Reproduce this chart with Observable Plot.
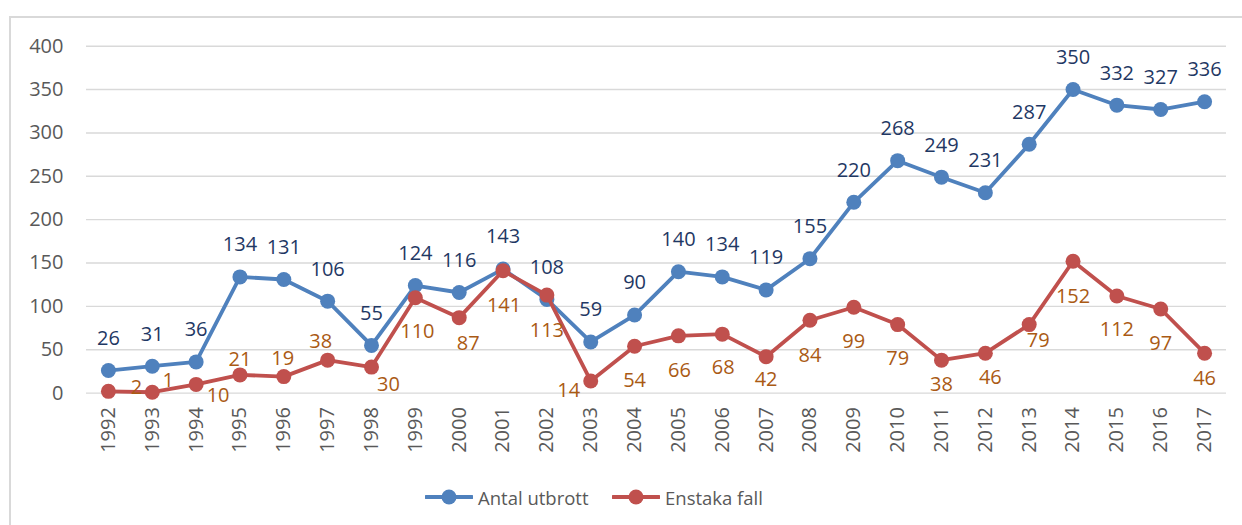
<!DOCTYPE html>
<html>
<head>
<meta charset="utf-8">
<script src="https://cdn.jsdelivr.net/npm/d3@7"></script>
<script src="https://cdn.jsdelivr.net/npm/@observablehq/plot@0.6"></script>
<style>
  html, body { margin: 0; padding: 0; background: #fff; }
  #wrap { position: relative; width: 1242px; height: 525px; overflow: hidden; font-family: "Open Sans", "Noto Sans", sans-serif; }
  #frame { position: absolute; left: 9px; top: 16px; width: 1300px; height: 600px; border-left: 2px solid #d9d9d9; border-top: 2px solid #d9d9d9; }
  #chart { position: absolute; left: 0; top: 0; }
  #legend { position: absolute; left: 0; top: 484px; width: 1242px; height: 26px; font-size: 18.5px; color: #595959; }
  .item { position: absolute; top: 0; display: flex; align-items: center; white-space: nowrap; }
  .item svg { margin-right: 5px; }
</style>
</head>
<body>
<div id="wrap">
  <div id="frame"></div>
  <div id="chart"></div>
  <div id="legend"></div>
</div>
<script>
const years = [1992, 1993, 1994, 1995, 1996, 1997, 1998, 1999, 2000, 2001, 2002, 2003, 2004, 2005, 2006, 2007, 2008, 2009, 2010, 2011, 2012, 2013, 2014, 2015, 2016, 2017];
const antalUtbrott = [26, 31, 36, 134, 131, 106, 55, 124, 116, 143, 108, 59, 90, 140, 134, 119, 155, 220, 268, 249, 231, 287, 350, 332, 327, 336];
const enstakaFall = [2, 1, 10, 21, 19, 38, 30, 110, 87, 141, 113, 14, 54, 66, 68, 42, 84, 99, 79, 38, 46, 79, 152, 112, 97, 46];
const yTicks = [0, 50, 100, 150, 200, 250, 300, 350, 400];
const seriesNames = ["Antal utbrott", "Enstaka fall"];

// label placement offsets [dx, dy] for the "Enstaka fall" data labels
const fallLabelOffsets = [[28,-4],[16,-12],[22,11],[0,-15],[-1,-18],[-7,-19],[17,18],[2,34],[9,26],[1,35],[0,35],[-22,10],[0,34],[1,35],[1,33],[0,23],[0,35],[0,34],[0,34],[0,24],[5,24],[9,16],[0,35],[0,34],[0,35],[0,25]];

const colors = { blue: "#4F81BD", red: "#C0504D", blueText: "#1F3864", redText: "#AA5A14", axis: "#595959", grid: "#d9d9d9" };

const utbrott = years.map((y, i) => ({ year: String(y), value: antalUtbrott[i] }));
const fall = years.map((y, i) => ({ year: String(y), value: enstakaFall[i] }));

const W = 1242, H = 470;
const left = 86, right = 1226;

const fallLabels = fall.map((d, i) => Plot.text([d], {
  x: "year", y: "value", text: d => String(d.value),
  dx: fallLabelOffsets[i][0], dy: fallLabelOffsets[i][1],
  fill: colors.redText, fontSize: 20
}));

const chart = Plot.plot({
  width: W,
  height: H,
  marginLeft: left,
  marginRight: W - right,
  marginTop: 45.7,
  marginBottom: H - 392.6,
  style: { fontFamily: "'Open Sans', 'Noto Sans', sans-serif", background: "transparent", overflow: "visible" },
  x: { type: "point", domain: years.map(String), padding: 0.5, round: false },
  y: { domain: [0, 400] },
  marks: [
    Plot.gridY(yTicks, { stroke: colors.grid, strokeOpacity: 1, strokeWidth: 1.4 }),
    Plot.axisY(yTicks, { tickSize: 0, tickPadding: 23, fontSize: 20, color: colors.axis, label: null }),
    Plot.axisX({ tickSize: 0, tickPadding: 14, tickRotate: -90, fontSize: 20, color: colors.axis, label: null }),
    Plot.line(utbrott, { x: "year", y: "value", stroke: colors.blue, strokeWidth: 3.8 }),
    Plot.dot(utbrott, { x: "year", y: "value", r: 7.5, fill: colors.blue }),
    Plot.line(fall, { x: "year", y: "value", stroke: colors.red, strokeWidth: 3.8 }),
    Plot.dot(fall, { x: "year", y: "value", r: 7.5, fill: colors.red }),
    Plot.text(utbrott, { x: "year", y: "value", text: d => String(d.value), dy: -32, fill: colors.blueText, fontSize: 20 }),
    ...fallLabels
  ]
});
document.getElementById("chart").appendChild(chart);

const legend = document.getElementById("legend");
const legendLeft = [425, 612];
[[seriesNames[0], colors.blue], [seriesNames[1], colors.red]].forEach(([name, c], i) => {
  const item = document.createElement("div");
  item.className = "item";
  item.style.left = legendLeft[i] + "px";
  item.innerHTML = `<svg width="48" height="26"><line x1="1" y1="13" x2="47" y2="13" stroke="${c}" stroke-width="4" stroke-linecap="round"/><circle cx="24" cy="13" r="7.5" fill="${c}"/></svg><span>${name}</span>`;
  legend.appendChild(item);
});
</script>
</body>
</html>
